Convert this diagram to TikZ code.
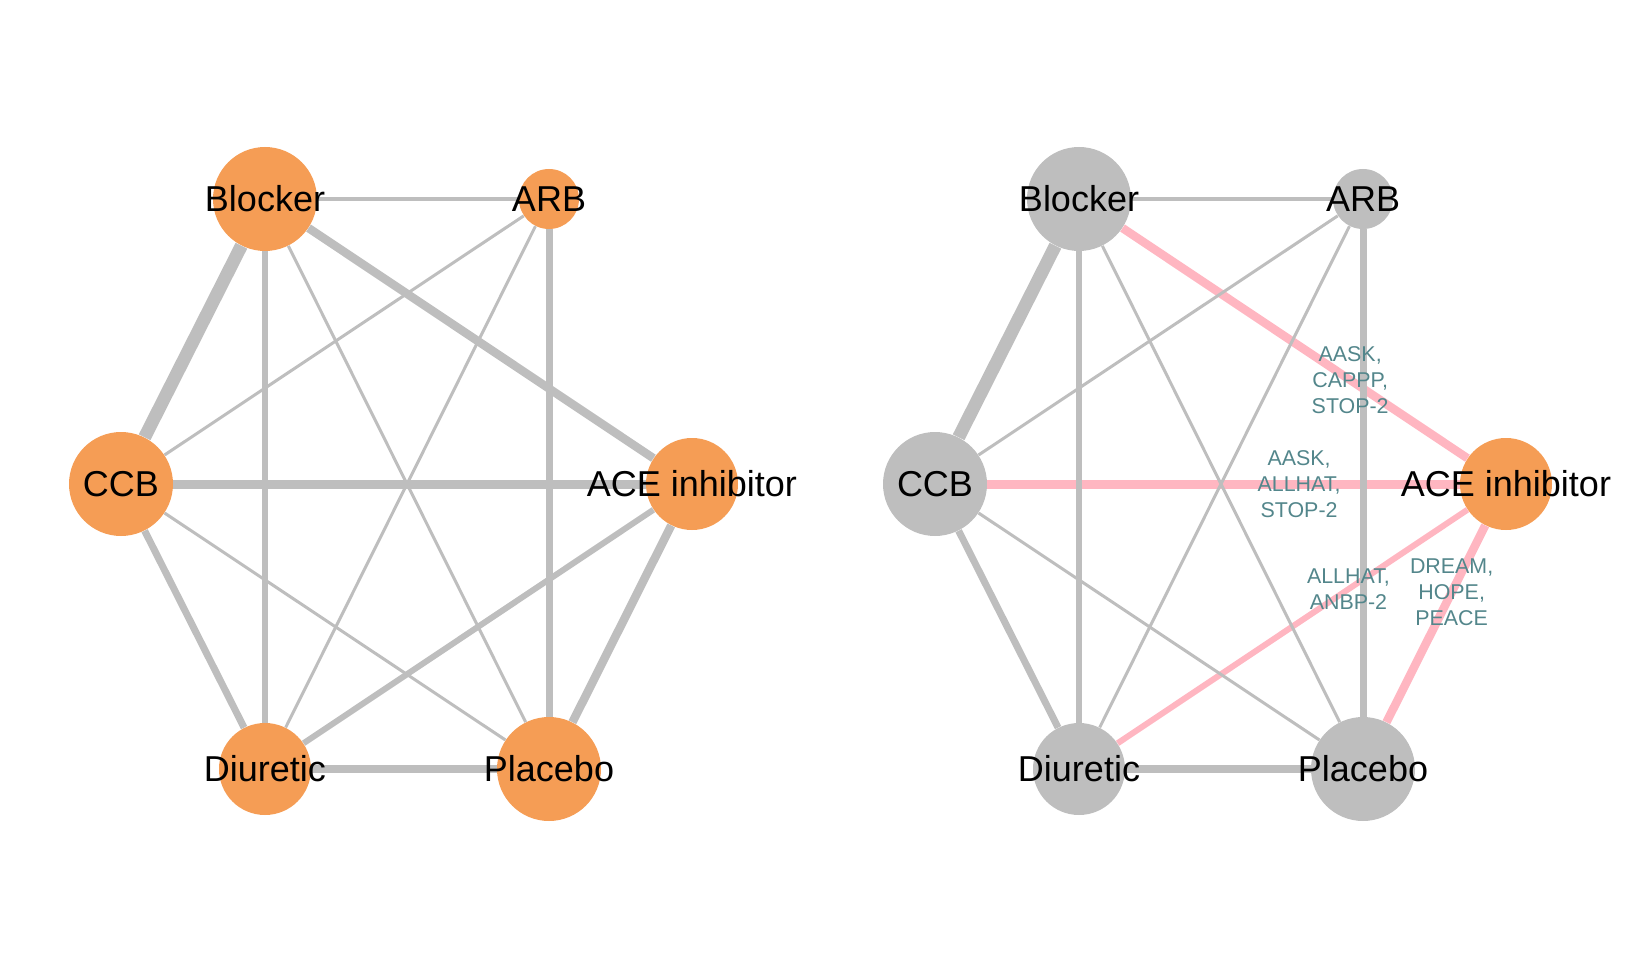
\documentclass[tikz,border=0pt]{standalone}
\usepackage{fontspec}
\setmainfont{Liberation Sans}
\usepackage{tikz}
\usepackage{xcolor}
\tikzset{c-node/.style={circle, inner sep=0pt, draw=none, fill=c_orange},
c-grey/.style={c-node, fill=c_gray},
c-name/.style={inner sep=0pt, text=black, font=\fontsize{18}{21.6}\selectfont},
c-edge/.style={draw=c_gray},
c-pink/.style={draw=c_pink},
c-study/.style={inner sep=0pt, align=center, text=c_text, font=\fontsize{10.7}{12.85}\selectfont}}
\definecolor{c_orange}{HTML}{F59D55}
\definecolor{c_gray}{HTML}{BEBEBE}
\definecolor{c_pink}{HTML}{FFB6C1}
\definecolor{c_text}{HTML}{53868B}

\begin{document}
\begin{tikzpicture}[x=0.5pt, y=-0.5pt]
\useasboundingbox (0,0) rectangle (1628,968);
% left network
\node (n0) [c-node, minimum size=52pt] at (265,199) {};
\node (n1) [c-node, minimum size=30pt] at (549,199) {};
\node (n2) [c-node, minimum size=46pt] at (692,484) {};
\node (n3) [c-node, minimum size=52pt] at (549,769) {};
\node (n4) [c-node, minimum size=46pt] at (265,769) {};
\node (n5) [c-node, minimum size=52pt] at (121,484) {};
\draw [c-edge, line width=6.5pt] (n0) -- (n5);
\draw [c-edge, line width=4.25pt] (n0) -- (n2);
\draw [c-edge, line width=4.5pt] (n5) -- (n2);
\draw [c-edge, line width=3.25pt] (n0) -- (n4);
\draw [c-edge, line width=3.5pt] (n1) -- (n3);
\draw [c-edge, line width=3.5pt] (n5) -- (n4);
\draw [c-edge, line width=4.25pt] (n2) -- (n3);
\draw [c-edge, line width=3pt] (n2) -- (n4);
\draw [c-edge, line width=3.75pt] (n4) -- (n3);
\draw [c-edge, line width=2pt] (n0) -- (n1);
\draw [c-edge, line width=1.5pt] (n1) -- (n5);
\draw [c-edge, line width=1.5pt] (n1) -- (n4);
\draw [c-edge, line width=1.5pt] (n0) -- (n3);
\draw [c-edge, line width=1.5pt] (n5) -- (n3);
\node [c-name] at (n0) {Blocker};
\node [c-name] at (n1) {ARB};
\node [c-name] at (n2) {ACE inhibitor};
\node [c-name] at (n3) {Placebo};
\node [c-name] at (n4) {Diuretic};
\node [c-name] at (n5) {CCB};
% right network, ACE inhibitor comparisons
\node (m0) [c-grey, minimum size=52pt] at (1079,199) {};
\node (m1) [c-grey, minimum size=30pt] at (1363,199) {};
\node (m2) [c-node, minimum size=46pt] at (1506,484) {};
\node (m3) [c-grey, minimum size=52pt] at (1363,769) {};
\node (m4) [c-grey, minimum size=46pt] at (1079,769) {};
\node (m5) [c-grey, minimum size=52pt] at (935,484) {};
\draw [c-pink, line width=4.25pt] (m2) -- coordinate[pos=0.34] (s0) (m0);
\draw [c-pink, line width=4.5pt] (m2) -- coordinate[pos=0.34] (s1) (m5);
\draw [c-pink, line width=3pt] (m2) -- coordinate[pos=0.34] (s2) (m4);
\draw [c-pink, line width=4.25pt] (m2) -- coordinate[pos=0.34] (s3) (m3);
\draw [c-edge, line width=6.5pt] (m0) -- (m5);
\draw [c-edge, line width=3.25pt] (m0) -- (m4);
\draw [c-edge, line width=3.5pt] (m1) -- (m3);
\draw [c-edge, line width=3.5pt] (m5) -- (m4);
\draw [c-edge, line width=3.75pt] (m4) -- (m3);
\draw [c-edge, line width=2pt] (m0) -- (m1);
\draw [c-edge, line width=1.5pt] (m1) -- (m5);
\draw [c-edge, line width=1.5pt] (m1) -- (m4);
\draw [c-edge, line width=1.5pt] (m0) -- (m3);
\draw [c-edge, line width=1.5pt] (m5) -- (m3);
\node [c-study] at (s0) {AASK,\\CAPPP,\\STOP-2};
\node [c-study] at (s1) {AASK,\\ALLHAT,\\STOP-2};
\node [c-study] at (s2) {ALLHAT,\\ANBP-2};
\node [c-study] at (s3) {DREAM,\\HOPE,\\PEACE};
\node [c-name] at (m0) {Blocker};
\node [c-name] at (m1) {ARB};
\node [c-name] at (m2) {ACE inhibitor};
\node [c-name] at (m3) {Placebo};
\node [c-name] at (m4) {Diuretic};
\node [c-name] at (m5) {CCB};
\end{tikzpicture}
\end{document}
